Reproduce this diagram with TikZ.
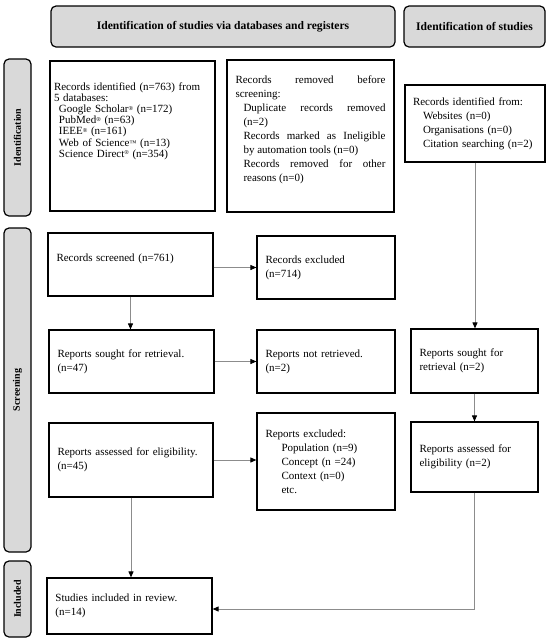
\documentclass[tikz,border=0pt]{standalone}
\usepackage{fontspec}
\setmainfont{Liberation Serif}
\usetikzlibrary{arrows.meta}

\definecolor{bargray}{RGB}{217,217,217}
\definecolor{linegray}{RGB}{140,140,140}

\newcommand{\regmark}{\raisebox{2.5pt}{\fontsize{6}{6}\selectfont ®}}
\newcommand{\tmmark}{\raisebox{1pt}{\fontsize{7}{7}\selectfont ™}}

\begin{document}
\begin{tikzpicture}[x=1pt, y=-1pt,
		box/.style={draw, line width=1.2pt, inner xsep=8.5pt, inner ysep=0pt, align=left, font=\fontsize{11}{14}\selectfont},
		bar/.style={draw, fill=bargray, line width=1.2pt, rounded corners=5pt, font=\bfseries\fontsize{11.6}{13}\selectfont},
		side/.style={bar, rotate=90, minimum height=27pt, font=\bfseries\fontsize{10}{12}\selectfont},
		arr/.style={draw=linegray, line width=0.9pt, -{Triangle[length=6pt, width=5pt, color=black]}}]

		\fill[white] (0, 0) rectangle (550, 641);
		\useasboundingbox (0, 0) rectangle (550, 641);

		\node[bar, minimum width=344pt, minimum height=41pt] (hdrdb) at (223, 26.5) {Identification of studies via databases and registers};
		\node[bar, minimum width=141pt, minimum height=41pt] (hdrother) at (474.5, 26.5) {Identification of studies};

		\node[side, minimum width=157pt] (sideid) at (17.5, 137.5) {Identification};
		\node[side, minimum width=324pt] (sidescr) at (17.5, 390) {Screening};
		\node[side, minimum width=76pt] (sideinc) at (17.5, 599) {Included};

		\node[box, inner xsep=4pt, text width=157pt, minimum height=150pt, font=\fontsize{11}{11.1}\selectfont] (iddb) at (132.5, 136) {Records identified (n=763) from\\5 databases:\\
			\hspace*{5pt}Google Scholar\regmark{} (n=172)\\
			\hspace*{5pt}PubMed\regmark{} (n=63)\\
			\hspace*{5pt}IEEE\regmark{} (n=161)\\
			\hspace*{5pt}Web of Science\tmmark{} (n=13)\\
			\hspace*{5pt}Science Direct\regmark{} (n=354)\\[21pt]\mbox{}};
		\node[box, align=justify, text width=150pt, minimum height=152pt] (removed) at (310.5, 136) {Records removed before\linebreak screening:\par
			\leftskip=8pt Duplicate records removed\linebreak (n=2)\par
			Records marked as Ineligible\linebreak by automation tools (n=0)\par
			Records removed for other\linebreak reasons (n=0)\par\mbox{}};
		\node[box, inner xsep=8pt, text width=124pt, minimum height=77pt] (idother) at (475, 123.5) {Records identified from:\\
			\hspace*{10pt}Websites (n=0)\\
			\hspace*{10pt}Organisations (n=0)\\
			\hspace*{10pt}Citation searching (n=2)};

		\node[box, text width=148pt, minimum height=63pt] (screened) at (130.5, 264.5) {Records screened (n=761)\\\mbox{}};
		\node[box, text width=121pt, minimum height=63pt] (excluded) at (326, 267.5) {Records excluded\\(n=714)};

		\node[box, text width=148pt, minimum height=63pt] (sought) at (131.5, 361.5) {Reports sought for retrieval.\\(n=47)};
		\node[box, text width=121pt, minimum height=63pt] (notretr) at (326, 361.5) {Reports not retrieved.\\(n=2)};
		\node[box, text width=110pt, minimum height=64pt] (soughtother) at (474.5, 361) {Reports sought for\\retrieval (n=2)};

		\node[box, text width=147pt, minimum height=74pt] (assessed) at (131, 460) {Reports assessed for eligibility.\\(n=45)};
		\node[box, text width=121pt, minimum height=97pt] (repexcl) at (326, 461.5) {Reports excluded:\\
			\hspace*{16pt}Population (n=9)\\
			\hspace*{16pt}Concept (n =24)\\
			\hspace*{16pt}Context (n=0)\\
			\hspace*{16pt}etc.};
		\node[box, text width=110pt, minimum height=70pt] (assessedother) at (474.5, 457) {Reports assessed for\\eligibility (n=2)};

		\node[box, text width=148pt, minimum height=56pt] (included) at (129.5, 606) {Studies included in review.\\(n=14)};

		\draw[arr] (screened.east |- excluded.west) -- (excluded.west);
		\draw[arr] (screened.south) -- (screened.south |- sought.north);
		\draw[arr] (sought.east) -- (notretr.west);
		\draw[arr] (assessed.east) -- (repexcl.west |- assessed.east);
		\draw[arr] (assessed.south) -- (assessed.south |- included.north);

		\draw[arr] (idother.south) -- (idother.south |- soughtother.north);
		\draw[arr] (soughtother.south) -- (assessedother.north);
		\draw[arr] (assessedother.south) |- ([yshift=-3pt]included.east);

\end{tikzpicture}
\end{document}
